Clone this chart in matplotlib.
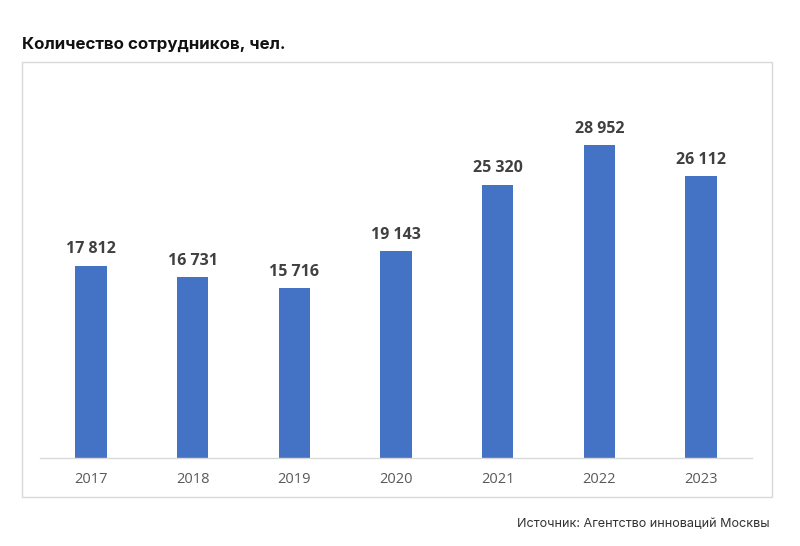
import matplotlib
matplotlib.use("Agg")
import matplotlib.pyplot as plt
from matplotlib.patches import Rectangle

years = ["2017", "2018", "2019", "2020", "2021", "2022", "2023"]
employees = [17812, 16731, 15716, 19143, 25320, 28952, 26112]
value_labels = ["17 812", "16 731", "15 716", "19 143", "25 320", "28 952", "26 112"]

title = "Количество сотрудников, чел."
source = "Источник: Агентство инноваций Москвы"

fig = plt.figure(figsize=(8, 5.46), dpi=100)
fig.patch.set_facecolor("white")

# outer frame
fig.patches.append(Rectangle((22/800, 1-497/546), (772-22)/800, (497-62)/546,
                             transform=fig.transFigure, fill=False,
                             edgecolor="#d9d9d9", linewidth=1.0))

ax = fig.add_axes([40/800, 1-458/546, 712/800, 378/546])
x = list(range(len(years)))
ax.bar(x, employees, width=0.31, color="#4472c4", zorder=2)
ax.set_xlim(-0.5, len(years)-0.5)
ax.set_ylim(0, 35000)
for s in ["top", "right", "left"]:
    ax.spines[s].set_visible(False)
ax.spines["bottom"].set_color("#d9d9d9")
ax.spines["bottom"].set_linewidth(1.0)
ax.set_yticks([])
ax.set_xticks(x)
ax.set_xticklabels(years, fontsize=10.5, color="#595959", family="Open Sans")
ax.tick_params(axis="x", length=0, pad=10)

for xi, v, lab in zip(x, employees, value_labels):
    ax.annotate(lab, (xi, v), xytext=(0, 6), textcoords="offset points",
                ha="center", va="bottom", fontsize=11.5, fontweight="bold",
                color="#404040", family="Open Sans")

fig.text(22/800, 1-44/546, title, ha="left", va="center", fontsize=12.2,
         fontweight="bold", color="#111111", family="Inter")
fig.text(770/800, 1-524/546, source, ha="right", va="center", fontsize=9.1,
         color="#333333", family="Inter")

fig.savefig("out.png", dpi=100)
